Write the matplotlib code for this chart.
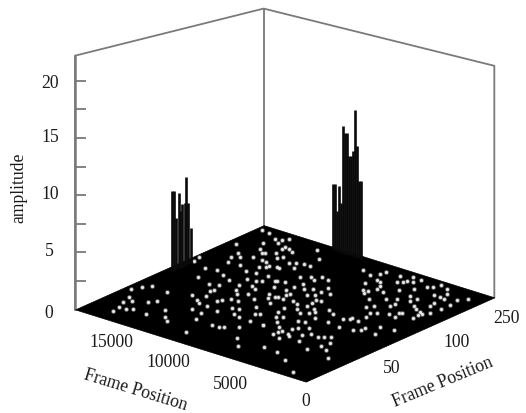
import matplotlib
matplotlib.use("Agg")
import matplotlib.pyplot as plt
from mpl_toolkits.mplot3d.art3d import Poly3DCollection

plt.rcParams["font.family"] = ["Liberation Serif", "DejaVu Serif"]

X_MAX = 19000
Y_MAX = 250
Z_MAX = 22.2

# white stars on the floor, (frame position x, frame position y)
star_x = [
    18470, 18170, 17760, 16370, 17750, 17510, 17100, 17190, 16600, 16280, 16970, 16310, 15940, 14540, 15060, 13840, 13260,
    18500, 18330, 16600, 17100, 17280, 17120, 18470, 18720, 16740, 16700, 16010, 15320, 16020, 17230, 15750, 16380, 14890,
    14640, 14250, 16610, 15520, 14760, 13970, 15300, 13330, 12970, 13660, 14660, 13040, 14420, 14400, 12480, 13290, 12830,
    14870, 14120, 14150, 12260, 12560, 12960, 13020, 11970, 11440, 13640, 12980, 11550, 10460, 11050, 13320, 11920, 12540,
    10770, 10240, 9760, 9550, 12130, 9290, 10610, 10080, 9840, 9110, 11200, 8220, 8010, 7160, 5770,
    17840, 16910, 16510, 16320, 16350, 15590, 15530, 15410, 15170, 14690, 14640, 15950, 14800, 14920, 13690, 12630, 13720,
    13280, 12800, 12320, 14410, 14360, 13860, 13580, 12850, 13280, 11640, 11120, 10490, 10610, 9930, 12450, 12340, 11860,
    11840, 10700, 10860, 10050, 9670, 9100, 11270, 10900, 10230, 10350, 10710, 10550, 9300, 8940, 8960, 8290, 10850, 10050,
    8390, 9390,
    10310, 8820, 8280, 8000, 8150, 8280, 7460, 7730, 7270, 7030, 6630, 8850, 9080, 8420, 8140, 5960, 6410, 6940, 6430, 5410,
    7810, 8160, 7210, 5690, 4340, 6410, 6240, 6750, 6660, 6730, 6000, 5240, 4870, 4190, 3980, 3570, 5970, 5750, 4750, 3120,
    2970, 2450, 3430, 4620, 1530, 3360, 1670,
    9310, 8450, 8110, 8030, 6880, 7580, 7210, 6350, 6060, 6010, 5670, 7790, 6810, 6560, 7140, 6840, 6780, 5390, 4750, 5920,
    5870, 5030, 4510, 4220, 3720, 4100, 4110, 2970, 5200, 4910, 4360, 4030, 3360, 2910, 2820, 2740, 4130, 4960, 4630, 4670,
    4060, 1630, 3280, 2900, 2890, 2310, 1360, 1790,
    6170, 5440, 4430, 4060, 3920, 3200, 3150, 2700, 2650, 2240, 1560, 1150, 3540, 2320, 1330, 2200, 1280, 2480, 2040, 1370,
    1850, 1770,
]
star_y = [
    66, 76, 82, 80, 52, 40, 45, 29, 29, 33, 17, 53, 59, 48, 30, 36, 29,
    240, 202, 206, 218, 188, 177, 149, 160, 166, 181, 188, 188, 200, 144, 167, 146, 160,
    174, 163, 124, 140, 136, 147, 118, 149, 151, 132, 121, 138, 110, 105, 134, 121, 115,
    89, 95, 84, 121, 103, 97, 92, 103, 115, 78, 78, 88, 102, 90, 64, 74, 63,
    78, 77, 90, 93, 50, 76, 47, 47, 50, 58, 22, 75, 38, 26, 37,
    239, 232, 234, 240, 226, 223, 218, 209, 222, 218, 206, 203, 200, 188, 235, 221, 198,
    201, 204, 204, 179, 182, 185, 183, 191, 164, 180, 186, 191, 182, 190, 159, 160, 163,
    148, 168, 159, 160, 165, 176, 133, 149, 144, 140, 131, 133, 152, 156, 164, 165, 125, 131,
    149, 134,
    118, 130, 141, 149, 133, 122, 131, 117, 122, 126, 137, 106, 117, 96, 101, 132, 115, 102, 103, 117,
    88, 75, 81, 96, 114, 85, 90, 72, 76, 65, 73, 79, 86, 84, 88, 91, 61, 71, 67, 71,
    80, 66, 57, 36, 54, 27, 10,
    226, 221, 229, 235, 236, 216, 215, 223, 226, 231, 233, 204, 208, 200, 191, 192, 187, 211, 220, 198,
    179, 187, 193, 206, 198, 178, 184, 191, 164, 169, 155, 159, 164, 170, 173, 162, 146, 129, 133, 137,
    134, 169, 116, 120, 125, 135, 139, 120,
    242, 240, 232, 234, 242, 239, 221, 222, 230, 220, 226, 233, 205, 208, 212, 200, 200, 186, 184, 187,
    178, 182,
]

# left group of spikes
left_y = [120, 122, 125, 128, 130, 133, 136, 138, 141, 144]
left_h = [7.02, 6.94, 4.49, 6.60, 4.94, 5.48, 5.49, 7.69, 5.33, 3.06]
LEFT_X = 18430

# right group of spikes
right_x = [12970, 12800, 12640, 12470, 12310, 12140, 11980, 11810, 11650, 11480, 11320, 11150, 10990, 10820, 10660]
right_h = [5.75, 5.80, 3.49, 5.73, 4.31, 11.11, 10.55, 10.61, 8.65, 8.70, 9.19, 12.85, 9.75, 6.73, 6.78]
RIGHT_Y = 245

z_ticks = [2.5, 5, 7.5, 10, 12.5, 15, 17.5, 20]
z_tick_labels = [("0", 49, 314), ("5", 49, 252), ("10", 50, 195), ("15", 50, 138), ("20", 50, 83)]
x_tick_labels = [("15000", 111, 343), ("10000", 168, 363), ("5000", 230, 385), ("0", 306, 402)]
y_tick_labels = [("50", 392, 369), ("100", 457, 343), ("250", 506, 319)]

# heights of the wall corners (left, back, right)
wall_top = [22.2, 18.95, 20.26]

WALL = "#7a7a7a"
FS = 12.7


def label(s, px, py, rotation=0):
    plt.figtext(px / 526, 1 - py / 414, s, ha="center", va="center", fontsize=FS,
                rotation=rotation, rotation_mode="anchor", color="#1a1a1a")


fig = plt.figure(figsize=(5.26, 4.14), dpi=100)
ax = fig.add_axes([34.6 / 526, -13.6 / 414, 487 / 526, 487 / 414], projection="3d",
                  proj_type="ortho", computed_zorder=False)
ax.view_init(elev=21.96, azim=-50.07)
ax.set_box_aspect((300, 293, 272.8))
ax.set_xlim(X_MAX, 0)
ax.set_ylim(0, Y_MAX)
ax.set_zlim(0, Z_MAX)
ax.set_axis_off()
ax.patch.set_alpha(0)

# walls
ax.plot([X_MAX, X_MAX, X_MAX, 0, 0], [0, 0, Y_MAX, Y_MAX, Y_MAX],
        [0, wall_top[0], wall_top[1], wall_top[2], 0], color=WALL, lw=1.3, zorder=1)
ax.plot([X_MAX, X_MAX], [Y_MAX, Y_MAX], [0, wall_top[1]], color=WALL, lw=1.3, zorder=1)
ax.plot([X_MAX, X_MAX], [0, 0], [0, wall_top[0]], color=WALL, lw=1.8, zorder=1)
ax.plot([X_MAX] * len(z_ticks), [0] * len(z_ticks), z_ticks, ls="none", marker=1, ms=8,
        mew=1.3, color=WALL, zorder=1)

# floor
floor = Poly3DCollection([[(0, 0, 0), (X_MAX, 0, 0), (X_MAX, Y_MAX, 0), (0, Y_MAX, 0)]],
                         facecolor="black", edgecolor="black", lw=0.5, zorder=2)
ax.add_collection3d(floor)

# soft halo first, then the bright centre of each star
ax.scatter(star_x, star_y, [0] * len(star_x), s=12, c="#5e5e5e", linewidths=0,
           depthshade=False, zorder=3)
ax.scatter(star_x, star_y, [0] * len(star_x), s=5, c="#e8e8e8", linewidths=0,
           depthshade=False, zorder=3)

# spikes
for y, h in zip(left_y, left_h):
    ax.plot([LEFT_X, LEFT_X], [y, y], [0, h], color="#0a0a0a", lw=1.9, zorder=4,
            solid_capstyle="butt")
for x, h in zip(right_x, right_h):
    ax.plot([x, x], [RIGHT_Y, RIGHT_Y], [0, h], color="#0a0a0a", lw=1.9, zorder=4,
            solid_capstyle="butt")

for s, px, py in z_tick_labels + x_tick_labels + y_tick_labels:
    label(s, px, py)
label("amplitude", 19, 188, rotation=90)
label("Frame Position", 136, 390, rotation=-17)
label("Frame Position", 443, 382, rotation=22.5)

fig.savefig("out.png", dpi=100)
